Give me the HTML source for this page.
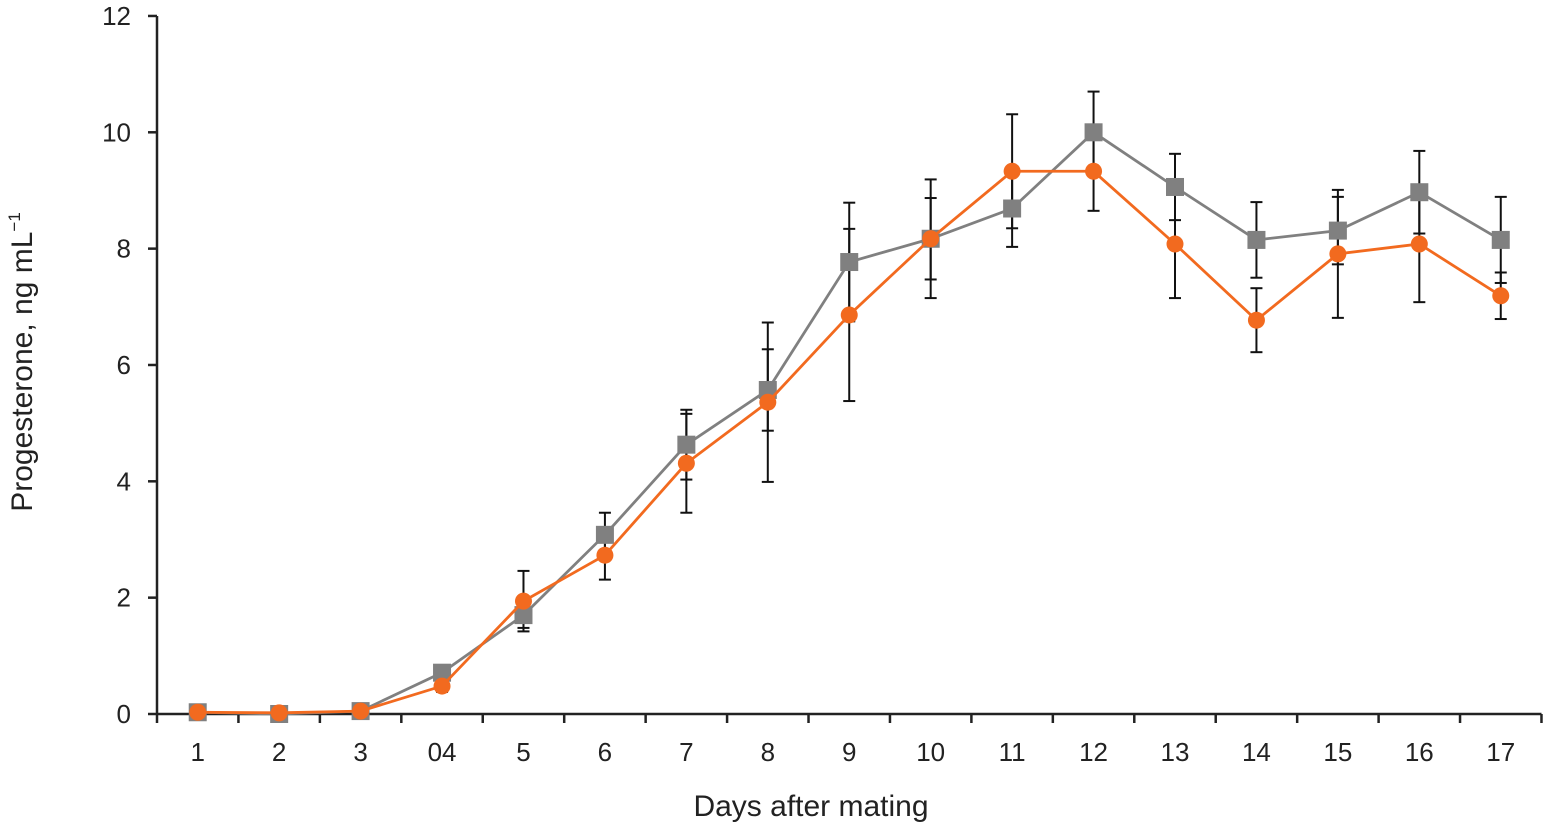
<!DOCTYPE html>
<html><head><meta charset="utf-8"><style>
html,body{margin:0;padding:0;background:#fff;}
svg{display:block;font-family:"Liberation Sans",sans-serif;}
</style></head><body>
<svg id="chart" width="1552" height="825"></svg>
<script>
const categories=["1","2","3","04","5","6","7","8","9","10","11","12","13","14","15","16","17"];
const grayValues=[0.03,0.0,0.05,0.71,1.70,3.08,4.63,5.57,7.77,8.17,8.69,10.0,9.06,8.15,8.31,8.97,8.15];
const grayErrors=[0.02,0.02,0.02,0.1,0.22,0.38,0.6,0.7,1.02,1.02,0.66,0.7,0.57,0.65,0.58,0.71,0.74];
const orangeValues=[0.03,0.02,0.05,0.48,1.94,2.73,4.31,5.36,6.86,8.17,9.33,9.33,8.08,6.77,7.91,8.08,7.19];
const orangeErrors=[0.02,0.02,0.02,0.1,0.52,0.42,0.85,1.37,1.48,0.7,0.98,0.68,0.93,0.55,1.1,1.0,0.4];
const yTicks=[0,2,4,6,8,10,12];

const NS="http://www.w3.org/2000/svg";
const svg=document.getElementById('chart');
const x0=157,bw=81.44,yBase=714,yPer=58.17;
const xs=i=>x0+bw*(i+0.5);
const ys=v=>yBase-v*yPer;
function mk(tag,attrs,parent){const e=document.createElementNS(NS,tag);for(const k in attrs)e.setAttribute(k,attrs[k]);(parent||svg).appendChild(e);return e;}

const axes=mk('g',{});


const ya=mk('line',{x1:x0,y1:ys(12),x2:x0,y2:yBase,stroke:'#222','stroke-width':2.5},axes);


const xa=mk('line',{x1:x0,y1:yBase,x2:x0+bw*categories.length,y2:yBase,stroke:'#222','stroke-width':2.5},axes);


yTicks.forEach(t=>{
  const tk=mk('line',{x1:x0-9,y1:ys(t),x2:x0,y2:ys(t),stroke:'#222','stroke-width':2.5},axes);
  
  
  const lb=mk('text',{x:131,y:ys(t)+9,'text-anchor':'end','font-size':26,fill:'#222'},axes);
  lb.textContent=t;
  
  
});
for(let i=0;i<=categories.length;i++){
  const tk=mk('line',{x1:x0+bw*i,y1:yBase,x2:x0+bw*i,y2:yBase+9,stroke:'#222','stroke-width':2.5},axes);
  
  
}
categories.forEach((c,i)=>{
  const lb=mk('text',{x:xs(i),y:761,'text-anchor':'middle','font-size':26,fill:'#222'},axes);
  lb.textContent=c;
  
  
});
const xt=mk('text',{x:811,y:816,'text-anchor':'middle','font-size':30,fill:'#222'});
xt.textContent='Days after mating';


const yt=mk('text',{x:0,y:0,'text-anchor':'middle','font-size':30,fill:'#222',transform:'translate(32,362) rotate(-90)'});
yt.innerHTML='Progesterone, ng mL<tspan dy="-12" font-size="17">−1</tspan>';



function errs(vals,errsArr,name){
  const g=mk('g',{stroke:'#111','stroke-width':2});
  
  
  vals.forEach((v,i)=>{
    const x=xs(i),t=ys(v+errsArr[i]),b=ys(v-errsArr[i]);
    mk('line',{x1:x,y1:t,x2:x,y2:b},g);
    mk('line',{x1:x-6,y1:t,x2:x+6,y2:t},g);
    mk('line',{x1:x-6,y1:b,x2:x+6,y2:b},g);
  });
}
errs(grayValues,grayErrors,'gray-error-bars');
errs(orangeValues,orangeErrors,'orange-error-bars');

function series(vals,color,shape,name){
  const g=mk('g',{});
  
  
  const p=mk('polyline',{points:vals.map((v,i)=>xs(i)+','+ys(v)).join(' '),fill:'none',stroke:color,'stroke-width':2.8},g);
  
  
  vals.forEach((v,i)=>{
    let m;
    if(shape==='square') m=mk('rect',{x:xs(i)-9,y:ys(v)-9,width:18,height:18,fill:color},g);
    else m=mk('circle',{cx:xs(i),cy:ys(v),r:8.5,fill:color},g);
    
    
  });
}
series(grayValues,'#808080','square','gray-series');
series(orangeValues,'#f26a1f','circle','orange-series');
</script>
</body></html>
